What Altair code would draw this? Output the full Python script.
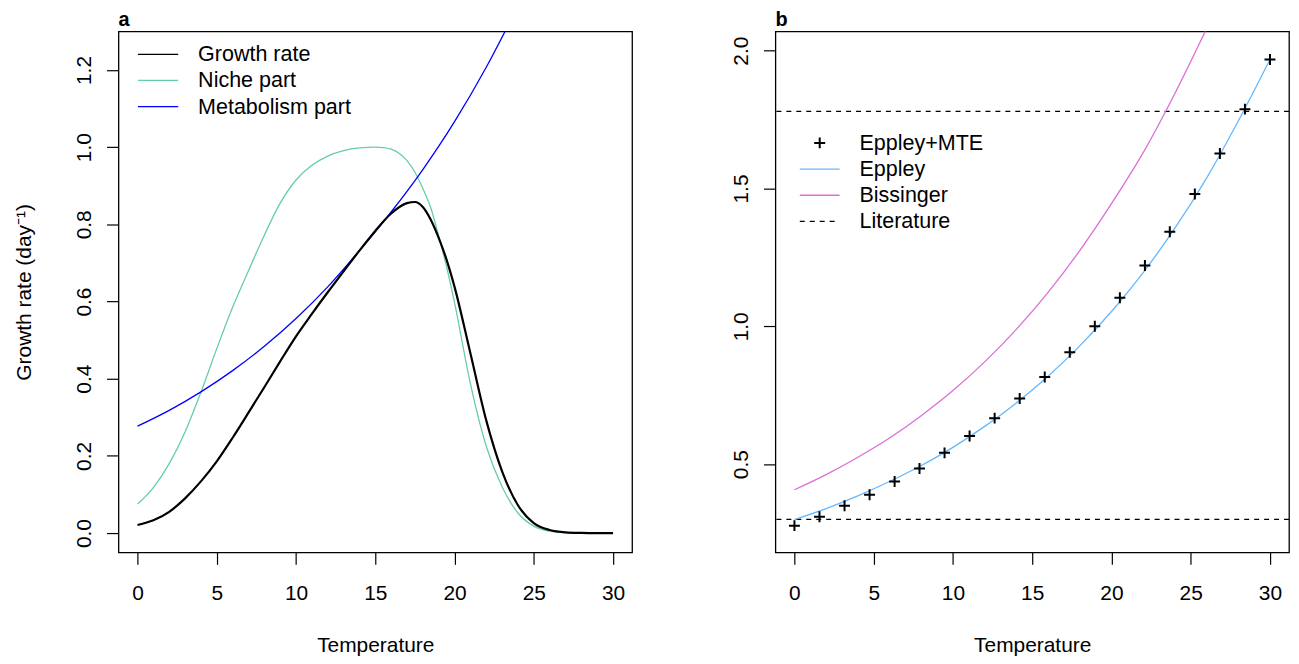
import altair as alt
import pandas as pd

FONT = "Liberation Sans"
FS = 21
LFS = 21.6

# ---------------- panel a ----------------
growth_T = [0, 1, 2, 3, 4, 5, 6, 7, 8, 9, 10, 11, 12, 13, 14, 15, 16, 17, 17.5, 18, 18.5,
            19, 19.5, 20, 21, 22, 23, 24, 25, 26, 27, 28, 29, 30]
growth_v = [0.021, 0.033, 0.055, 0.09, 0.134, 0.186, 0.247, 0.312, 0.378, 0.445, 0.51, 0.568,
            0.624, 0.678, 0.732, 0.783, 0.828, 0.855, 0.858, 0.845, 0.812,
            0.765, 0.708, 0.638, 0.466, 0.292, 0.16, 0.072, 0.026, 0.008, 0.002, 0.0005, 0.0, 0.0]

niche_T = [0, 1, 2, 3, 4, 5, 6, 7, 8, 9, 10, 11, 12, 13, 14, 15, 15.5, 16, 16.5, 17, 17.5, 18,
           18.5, 19, 19.5, 20, 21, 22, 23, 24, 25, 26, 27, 28, 29, 30]
niche_v = [0.075, 0.118, 0.18, 0.262, 0.365, 0.478, 0.585, 0.68, 0.772, 0.855, 0.915, 0.953,
           0.977, 0.991, 0.998, 1.0, 0.999, 0.995, 0.984, 0.965, 0.935, 0.893,
           0.843, 0.77, 0.69, 0.597, 0.387, 0.225, 0.12, 0.052, 0.018, 0.005, 0.001, 0.0, 0.0, 0.0]

metab_T = [0, 2, 4, 6, 8, 10, 12, 14, 16, 18, 20, 22, 24]
metab_v = [0.277, 0.318, 0.366, 0.421, 0.484, 0.556, 0.638, 0.732, 0.832, 0.942, 1.066, 1.207,
           1.366]

legend_a_labels = ["Growth rate", "Niche part", "Metabolism part"]
legend_a_colors = ["#000000", "#66CDAA", "#0000FF"]

# ---------------- panel b ----------------
mte_T = [0, 1.58, 3.16, 4.74, 6.32, 7.89, 9.47, 11.05, 12.63, 14.21, 15.79, 17.37, 18.95,
         20.53, 22.11, 23.68, 25.26, 26.84, 28.42, 30]
mte_v = [0.277, 0.309, 0.349, 0.389, 0.437, 0.484, 0.541, 0.602, 0.667, 0.738, 0.816, 0.906,
         1.0, 1.104, 1.221, 1.343, 1.480, 1.627, 1.788, 1.968]

eppley_T = [0, 2, 4, 6, 8, 10, 12, 14, 16, 18, 20, 22, 24, 26, 28, 30]
eppley_v = [0.299, 0.339, 0.385, 0.437, 0.495, 0.561, 0.637, 0.722, 0.819, 0.929, 1.054,
            1.195, 1.356, 1.538, 1.745, 1.968]

bissinger_T = [0, 2, 4, 6, 8, 10, 12, 14, 16, 18, 20, 22, 24, 26]
bissinger_v = [0.407, 0.462, 0.525, 0.595, 0.676, 0.767, 0.871, 0.989, 1.123, 1.275, 1.445,
               1.63, 1.845, 2.08]

literature_v = [0.30, 1.78]

legend_b_labels = ["Eppley+MTE", "Eppley", "Bissinger", "Literature"]
legend_b_colors = ["#000000", "#63B8FF", "#DA70D6", "#000000"]

panel_labels = ["a", "b"]

# ---------------- layout ----------------
W, H = 516, 523.4
PLUS = "M-1,0L1,0M0,-1L0,1"

xscale = alt.Scale(domain=[-1.2, 31.2], nice=False, zero=False)


def x_enc():
    return alt.X("T:Q", scale=xscale,
                 axis=alt.Axis(values=[0, 5, 10, 15, 20, 25, 30], title="Temperature",
                               labelBaseline="alphabetic", labelPadding=35.8, labelFlush=False,
                               titleX=W / 2, titleY=99.5, titleBaseline="alphabetic",
                               titleAlign="center", titleAngle=0))


def y_enc(domain, values, title):
    kw = dict(values=values, format=".1f", labelAngle=270, labelAlign="center",
              labelBaseline="alphabetic", labelPadding=16, labelFlush=False)
    if title:
        kw.update(title=title, titleAngle=270, titleBaseline="alphabetic", titleAlign="center",
                  titleX=-88, titleY=H / 2)
    else:
        kw.update(title=None)
    return alt.Y("v:Q", scale=alt.Scale(domain=domain, nice=False, zero=False),
                 axis=alt.Axis(**kw))


def one():
    return alt.Chart(pd.DataFrame({"k": [0]}))


def panel_label(txt):
    return one().mark_text(align="left", baseline="alphabetic", font=FONT, fontSize=20,
                           fontWeight="bold", color="black").encode(
        x=alt.value(0), y=alt.value(-5), text=alt.value(txt))


ya = y_enc([-0.05, 1.30], [0, 0.2, 0.4, 0.6, 0.8, 1.0, 1.2], "Growth rate (day\u207b\u00b9)")

df_g = pd.DataFrame({"T": growth_T, "v": growth_v})
df_n = pd.DataFrame({"T": niche_T, "v": niche_v})
df_m = pd.DataFrame({"T": metab_T, "v": metab_v})

niche_line = alt.Chart(df_n).mark_line(color="#66CDAA", strokeWidth=1.3, interpolate="monotone",
                                        clip=True).encode(x=x_enc(), y=ya)
metab_line = alt.Chart(df_m).mark_line(color="#0000FF", strokeWidth=1.3, interpolate="monotone",
                                        clip=True).encode(x=x_enc(), y=ya)
growth_line = alt.Chart(df_g).mark_line(color="#000000", strokeWidth=2.2, interpolate="monotone",
                                         clip=True).encode(x=x_enc(), y=ya)

leg_a = []
for i, (lab, col) in enumerate(zip(legend_a_labels, legend_a_colors)):
    yy = 23 + 26.3 * i
    leg_a.append(one().mark_rule(color=col, strokeWidth=1.3).encode(
        x=alt.value(19.6), x2=alt.value(60), y=alt.value(yy)))
    leg_a.append(one().mark_text(align="left", baseline="middle", font=FONT, fontSize=LFS,
                                 color="black").encode(x=alt.value(80), y=alt.value(yy + 1),
                                                       text=alt.value(lab)))

panel_a = alt.layer(niche_line, metab_line, growth_line, *leg_a,
                    panel_label(panel_labels[0])).properties(width=W, height=H)

yb = y_enc([0.18, 2.07], [0.5, 1.0, 1.5, 2.0], None)

df_mte = pd.DataFrame({"T": mte_T, "v": mte_v})
df_e = pd.DataFrame({"T": eppley_T, "v": eppley_v})
df_b = pd.DataFrame({"T": bissinger_T, "v": bissinger_v})
df_l = pd.DataFrame({"v": literature_v})

lit_rules = alt.Chart(df_l).mark_rule(color="black", strokeWidth=1.3, strokeDash=[5, 5]).encode(y=yb)
bis_line = alt.Chart(df_b).mark_line(color="#DA70D6", strokeWidth=1.3, interpolate="monotone",
                                      clip=True).encode(x=x_enc(), y=yb)
epp_line = alt.Chart(df_e).mark_line(color="#63B8FF", strokeWidth=1.3, interpolate="monotone",
                                      clip=True).encode(x=x_enc(), y=yb)
mte_pts = alt.Chart(df_mte).mark_point(shape=PLUS, filled=False, size=121, strokeWidth=2,
                                       color="black", opacity=1).encode(x=x_enc(), y=yb)

leg_b = []
for i, (lab, col) in enumerate(zip(legend_b_labels, legend_b_colors)):
    yy = 112 + 26.3 * i
    if i == 0:
        leg_b.append(one().mark_point(shape=PLUS, filled=False, size=121, strokeWidth=2,
                                      color=col, opacity=1).encode(
            x=alt.value(44.5), y=alt.value(yy)))
    else:
        leg_b.append(one().mark_rule(color=col, strokeWidth=1.3,
                                     strokeDash=[5, 5] if lab == "Literature" else [1, 0]).encode(
            x=alt.value(24.5), x2=alt.value(64.5), y=alt.value(yy)))
    leg_b.append(one().mark_text(align="left", baseline="middle", font=FONT, fontSize=LFS,
                                 color="black").encode(x=alt.value(84.5), y=alt.value(yy + 1),
                                                       text=alt.value(lab)))

panel_b = alt.layer(lit_rules, bis_line, epp_line, mte_pts, *leg_b,
                    panel_label(panel_labels[1])).properties(width=W, height=H)

chart = alt.hconcat(panel_a, panel_b, spacing=144, bounds="flush").configure_view(
    stroke="black", strokeWidth=1.3
).configure_axis(
    labelFont=FONT, labelFontSize=FS, labelColor="black", tickColor="black", tickSize=12,
    tickWidth=1.2, domain=False, grid=False, titleFont=FONT, titleFontSize=FS,
    titleFontWeight="normal", titleColor="black"
).properties(padding={"left": 5, "top": 0, "right": 0, "bottom": 0}, background="white")

chart.save("out.html", embed_options={"renderer": "svg", "actions": False})
